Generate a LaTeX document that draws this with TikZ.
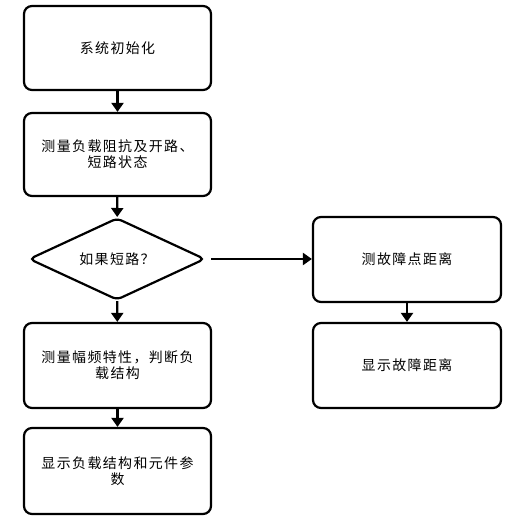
\documentclass[tikz,border=0pt]{standalone}
\usepackage{fontspec}
\setmainfont{Noto Sans CJK SC}[LetterSpace=10]
\usetikzlibrary{shapes.geometric, arrows.meta}
\tikzstyle{process} = [rectangle, rounded corners=8bp,
                       minimum width=187bp, minimum height=84bp,
                       text centered, align=center, draw=black, fill=white,
                       line width=2.2bp, inner sep=0pt,
                       font=\fontsize{14}{16}\selectfont]
\tikzstyle{decision} = [diamond, aspect=2.15, rounded corners=5bp,
                        minimum width=176bp, minimum height=82bp,
                        inner sep=0pt, text centered, draw=black,
                        line width=2.2bp, font=\fontsize{14}{16}\selectfont]
\tikzstyle{arrow} = [line width=2.2bp,-{Triangle[length=9bp,width=12bp]}]

\begin{document}
\begin{tikzpicture}[x=1bp, y=-1bp]
        \useasboundingbox (0,0) rectangle (516,529);

        %left column
        \node at (117.5,48)(Init) [process] {系统初始化};
        \node at (117.5,154.5)(Measure) [process, minimum height=83bp] {测量负载阻抗及开路、\\短路状态};
        \node at (117,259)(Short) [decision] {如果短路？};
        \node at (117.5,365.5)(Freq) [process, minimum height=85bp] {测量幅频特性，判断负\\载结构};
        \node at (117.5,471)(ShowLoad) [process, minimum height=86bp] {显示负载结构和元件参\\数};

        %right column
        \node at (407,259.5)(Fault) [process, minimum width=188bp, minimum height=85bp] {测故障点距离};
        \node at (407,365.5)(ShowFault) [process, minimum width=188bp, minimum height=85bp] {显示故障距离};

        %arrows
        \draw [arrow] (Init) -- (Measure);
        \draw [arrow] (Measure) -- (Short);
        \draw [arrow] (Short) -- (Freq);
        \draw [arrow] (Freq) -- (ShowLoad);
        \draw [arrow] ([xshift=5bp]Short.east) -- (Fault.west |- Short.east);
        \draw [arrow] (Fault) -- (ShowFault);

    \end{tikzpicture}
\end{document}
